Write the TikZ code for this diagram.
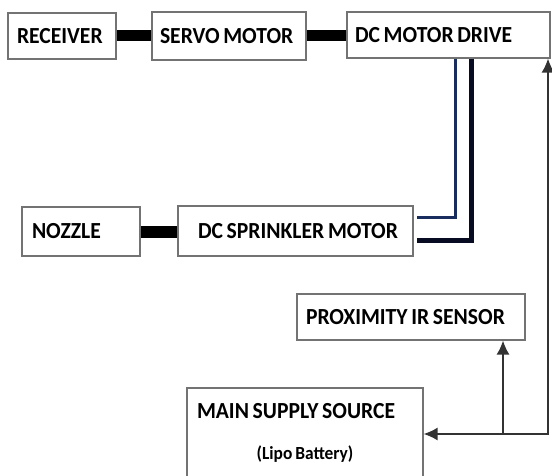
\documentclass[tikz,border=0pt]{standalone}
\usepackage{fontspec}
\setmainfont{Carlito}
\usetikzlibrary{arrows.meta}
\newcommand{\T}[1]{\scalebox{0.94}[1]{\spaceskip=0.17em\relax #1}}
\begin{document}
\begin{tikzpicture}[x=1pt,y=-1pt,
  box/.style={draw=black!55,line width=1.2pt,fill=white,inner ysep=0pt,align=left,font=\bfseries\fontsize{23}{26}\selectfont},
  bus/.style={line width=11pt,black},
  thinbus/.style={line width=3pt,draw={rgb,255:red,25;green,45;blue,95}},
  thickbus/.style={line width=5pt,draw={rgb,255:red,8;green,12;blue,35}},
  arr/.style={line width=1.5pt,black!80,{Latex[length=14pt,width=13pt]}-{Latex[length=14pt,width=13pt]}},
  uparr/.style={line width=1.5pt,black!80,-{Latex[length=14pt,width=13pt]}}]
\useasboundingbox (0,0) rectangle (552,476);
\node[box,inner xsep=9pt,text width=90pt,minimum height=46pt] (rec) at (62,36) {\T{RECEIVER}};
\node[box,inner xsep=8pt,text width=138pt,minimum height=48pt] (servo) at (229,36) {\T{SERVO MOTOR}};
\node[box,inner xsep=8pt,text width=187pt,minimum height=46pt] (dcd) at (448.5,35) {\T{DC MOTOR DRIVE}};
\node[box,inner xsep=10pt,text width=98pt,minimum height=49pt] (noz) at (81,231.5) {\T{NOZZLE}};
\node[box,inner xsep=20pt,text width=195pt,minimum height=50pt] (spr) at (295.5,231) {\T{DC SPRINKLER MOTOR}};
\node[box,inner xsep=9pt,text width=210pt,minimum height=46pt] (prox) at (411,317) {\T{PROXIMITY IR SENSOR}};
\node[box,inner xsep=10pt,text width=216pt,minimum height=90pt] (main) at (305,433) {\T{MAIN SUPPLY SOURCE}\\[15pt]\makebox[\linewidth]{\fontsize{18.5}{21}\selectfont\T{(Lipo Battery)}}};
\draw[bus] (rec.east) -- (servo.west);
\draw[bus] (servo.east) -- (dcd.west |- servo.east);
\draw[bus] (noz.east |- 0,232) -- (spr.west |- 0,232);
\draw[thinbus] (dcd.south -| 455,0) -- (455,218) -- ([xshift=3pt]spr.east |- 0,218);
\draw[thickbus] (dcd.south -| 471,0) -- (471,240) -- ([xshift=3pt]spr.east |- 0,240);
\coordinate (j) at (503,434);
\draw[arr] (main.east |- j) -- (548,434) -- (dcd.south -| 548,0);
\draw[uparr] (j) -- (prox.south -| j);
\end{tikzpicture}
\end{document}
